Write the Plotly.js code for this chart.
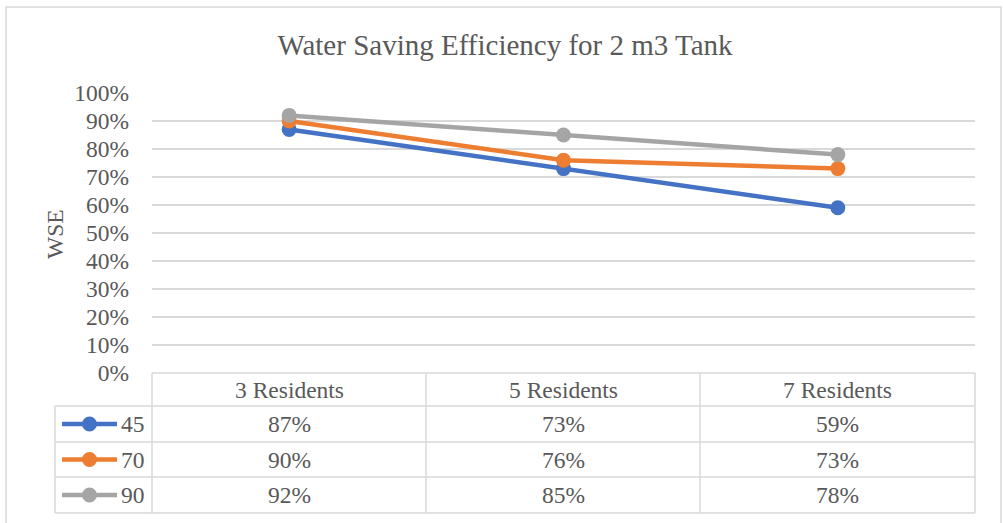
<!DOCTYPE html>
<html>
<head>
<meta charset="utf-8">
<script src="https://cdn.plot.ly/plotly-3.0.1.min.js"></script>
<style>
html,body{margin:0;padding:0;background:#fff;}
#chart{width:1003px;height:523px;}
</style>
</head>
<body>
<div id="chart"></div>
<script>
// ---- data ----
var categories = ['3 Residents', '5 Residents', '7 Residents'];
var seriesNames = ['45', '70', '90'];
var wse45 = [0.87, 0.73, 0.59];
var wse70 = [0.90, 0.76, 0.73];
var wse90 = [0.92, 0.85, 0.78];
var seriesColors = ['#4472C4', '#ED7D31', '#A5A5A5'];
var chartTitle = 'Water Saving Efficiency for 2 m3 Tank';
var yTitle = 'WSE';

var seriesValues = [wse45, wse70, wse90];

// ---- geometry (pixels) ----
var W = 1003, H = 523;
var PL = 152, PR = 975, PT = 93, PB = 373;
var FONT = 'Liberation Serif, Tinos, Times New Roman, DejaVu Serif';
var FS = 23.5;
var TXT = '#595959';
var GRID = '#d9d9d9';

function px2x(px){ return (px - PL) / (PR - PL); }
function px2y(py){ return (PB - py) / (PB - PT); }

var traces = seriesValues.map(function(vals, i){
  return {
    type: 'scatter', mode: 'lines+markers',
    x: categories, y: vals, name: seriesNames[i],
    line: {color: seriesColors[i], width: 4.5},
    marker: {color: seriesColors[i], size: 15},
    showlegend: false, hoverinfo: 'skip', cliponaxis: false
  };
});

var shapes = [];
var annotations = [];

function hline(py, x0, x1){
  shapes.push({type:'line', xref:'paper', yref:'paper', x0:px2x(x0), x1:px2x(x1), y0:px2y(py), y1:px2y(py), line:{color:GRID, width:1.5}});
}
function vline(px, y0, y1){
  shapes.push({type:'line', xref:'paper', yref:'paper', x0:px2x(px), x1:px2x(px), y0:px2y(y0), y1:px2y(y1), line:{color:GRID, width:1.5}});
}

// table grid
var colEdges = [152, 426, 700, 975];
var rowEdges = [373, 406, 442, 477, 513];
var legendLeft = 55;
hline(rowEdges[0], colEdges[0], colEdges[3]);
for (var r = 1; r < rowEdges.length; r++) hline(rowEdges[r], legendLeft, colEdges[3]);
vline(legendLeft, rowEdges[1], rowEdges[4]);
colEdges.forEach(function(c){ vline(c, rowEdges[0], rowEdges[4]); });

// outer chart border
shapes.push({type:'rect', xref:'paper', yref:'paper', x0:px2x(6), x1:px2x(1001), y0:px2y(7), y1:px2y(530), line:{color:GRID, width:1.5}, fillcolor:'rgba(0,0,0,0)', layer:'below'});

function cellText(text, cx, cy, anchor){
  annotations.push({xref:'paper', yref:'paper', x:px2x(cx), y:px2y(cy), text:text, showarrow:false,
    xanchor: anchor || 'center', yanchor:'middle', font:{family:FONT, size:FS, color:TXT}});
}

// header row
categories.forEach(function(c, j){
  cellText(c, (colEdges[j] + colEdges[j+1]) / 2, (rowEdges[0] + rowEdges[1]) / 2);
});
// value rows + legend keys
seriesValues.forEach(function(vals, i){
  var cy = (rowEdges[i+1] + rowEdges[i+2]) / 2;
  vals.forEach(function(v, j){
    cellText(Math.round(v * 100) + '%', (colEdges[j] + colEdges[j+1]) / 2, cy);
  });
  cellText(seriesNames[i], 147, cy, 'right');
  shapes.push({type:'line', xref:'paper', yref:'paper', x0:px2x(62), x1:px2x(117), y0:px2y(cy), y1:px2y(cy), line:{color:seriesColors[i], width:4.5}});
  shapes.push({type:'circle', xref:'paper', yref:'paper', x0:px2x(89.5-7.5), x1:px2x(89.5+7.5), y0:px2y(cy-7.5), y1:px2y(cy+7.5), line:{color:seriesColors[i], width:0}, fillcolor:seriesColors[i]});
});

// y axis title
annotations.push({xref:'paper', yref:'paper', x:px2x(55), y:px2y(234), text:yTitle, showarrow:false, textangle:-90,
  xanchor:'center', yanchor:'middle', font:{family:FONT, size:FS, color:TXT}});

var layout = {
  width: W, height: H,
  margin: {l: PL, r: W - PR, t: PT, b: H - PB, pad: 0},
  paper_bgcolor: '#ffffff', plot_bgcolor: '#ffffff',
  font: {family: FONT},
  title: {text: chartTitle, font: {family: FONT, size: 29, color: TXT}, x: 505 / W, xanchor: 'center', y: 1 - 45 / H, yanchor: 'middle', xref: 'container', yref: 'container'},
  xaxis: {type: 'category', range: [-0.5, 2.5], showticklabels: false, showgrid: false, zeroline: false, showline: false, ticks: ''},
  yaxis: {range: [0, 1], dtick: 0.1, tick0: 0, tickformat: '.0%', showgrid: true, gridcolor: GRID, gridwidth: 1.5,
    zeroline: false, showline: false, ticks: '', ticklabelstandoff: 22,
    tickfont: {family: FONT, size: FS, color: TXT}},
  shapes: shapes,
  annotations: annotations,
  showlegend: false
};

Plotly.newPlot('chart', traces, layout, {displayModeBar: false, staticPlot: true});
</script>
</body>
</html>
